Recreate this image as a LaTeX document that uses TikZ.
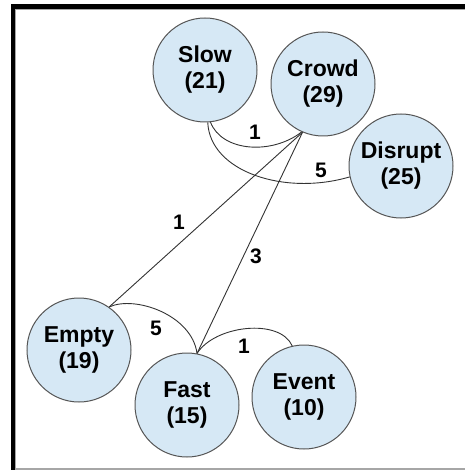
\documentclass[tikz,border=0pt]{standalone}
\usepackage{fontspec}
\setmainfont{Liberation Sans}
\definecolor{stfill}{HTML}{D6E8F5}
\definecolor{stline}{HTML}{555555}
\definecolor{lkline}{HTML}{333333}
\tikzset{every picture/.style={line width=0.75pt}}
\tikzset{
  state/.style={circle, draw=stline, fill=stfill, line width=1pt, minimum size=104pt,
    inner sep=0pt, align=center, font=\fontsize{23}{26}\selectfont\bfseries},
  weight/.style={inner sep=0pt, font=\fontsize{21}{24}\selectfont\bfseries},
  link/.style={draw=lkline, line width=0.9pt}
}

\begin{document}
\begin{tikzpicture}[x=1pt,y=1pt,yscale=-1,xscale=1]
\useasboundingbox (0,0) rectangle (465,470);

%Frame
\fill [black] (11,4) rectangle (15,470);
\fill [black] (11,4) rectangle (465,9);
\draw [gray!70, line width=1pt] (15.5,470) -- (15.5,9.5) -- (465,9.5);
\draw [gray!70, line width=1.5pt] (15,469) -- (465,469);

%Shape: Circles
\node [state] (slow) at (205,70) {Slow\\(21)};
\node [state] (crowd) at (323,84) {Crowd\\(29)};
\node [state] (disrupt) at (401,166) {Disrupt\\(25)};
\node [state] (empty) at (79,350) {Empty\\(19)};
\node [state] (fast) at (187,405) {Fast\\(15)};
\node [state] (event) at (304,397) {Event\\(10)};

%Curves
\draw [link] (slow.-84) .. controls (222,152) and (272,155) .. (crowd.-114) ;
\draw [link] (slow.-87) .. controls (210,172) and (285,196) .. (disrupt.-168) ;
\draw [link] (empty.55) .. controls (135,295) and (192,315) .. (fast.79) ;
\draw [link] (fast.79) .. controls (215,325) and (280,318) .. (event.103) ;
%Straight Lines
\draw [link] (crowd.-113) -- (empty.55) ;
\draw [link] (crowd.-113) -- (fast.79) ;

% Text Node
\node [weight] (w1) at (255,132) {1};
\node [weight] (w2) at (321,170) {5};
\node [weight] (w3) at (179,222) {1};
\node [weight] (w4) at (256,256) {3};
\node [weight] (w5) at (156,328) {5};
\node [weight] (w6) at (244,346) {1};

\end{tikzpicture}
\end{document}
